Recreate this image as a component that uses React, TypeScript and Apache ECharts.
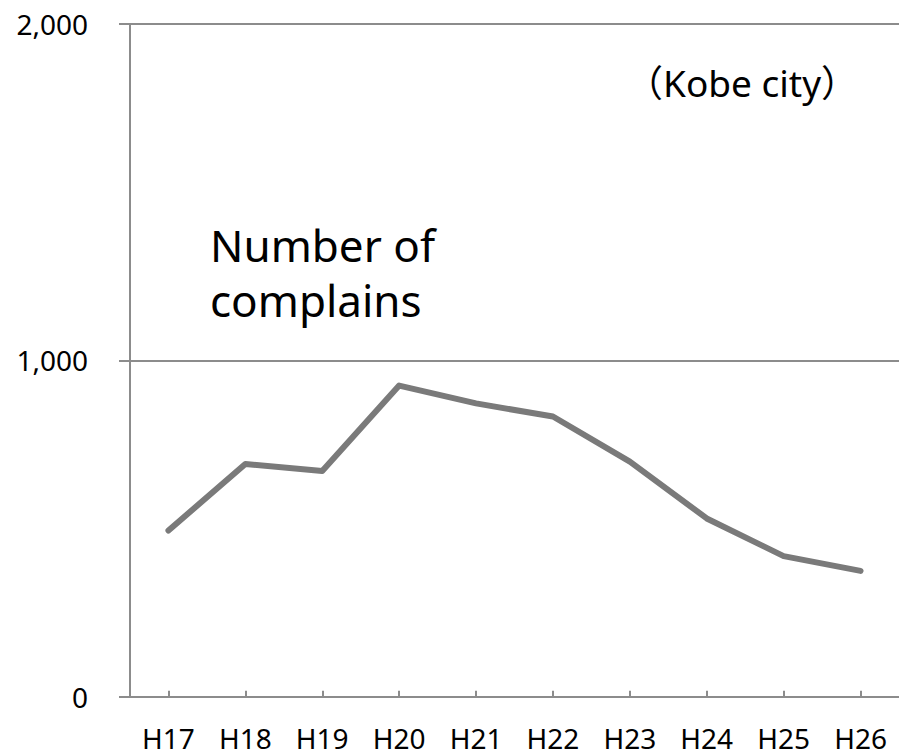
import React, { useEffect, useRef } from "react";
import * as echarts from "echarts";

const categories = ["H17", "H18", "H19", "H20", "H21", "H22", "H23", "H24", "H25", "H26"];
const complaints = [494, 692, 671, 925, 872, 833, 699, 530, 418, 374];
const yTicks = [0, 1000, 2000];

const FONT = "'Noto Sans', 'Noto Sans CJK JP', sans-serif";
const AXIS_COLOR = "#8c8c8c";

export default function App() {
  const ref = useRef<HTMLDivElement>(null);
  useEffect(() => {
    if (!ref.current) return;
    const chart = echarts.init(ref.current, undefined, { renderer: "svg" });
    chart.setOption({
      animation: false,
      backgroundColor: "#ffffff",
      textStyle: { fontFamily: FONT },
      grid: { left: 130, top: 24, width: 772, height: 672.7, containLabel: false },
      xAxis: {
        type: "category",
        data: categories,
        boundaryGap: true,
        axisLine: { show: true, lineStyle: { color: AXIS_COLOR, width: 2 } },
        axisTick: { show: true, inside: true, length: 6, alignWithLabel: true, interval: 0, lineStyle: { color: AXIS_COLOR, width: 2 } },
        axisLabel: { interval: 0, margin: 27, color: "#000", fontSize: 28, lineHeight: 28, fontFamily: FONT },
        splitLine: { show: false },
      },
      yAxis: {
        type: "value",
        min: yTicks[0],
        max: yTicks[yTicks.length - 1],
        interval: 1000,
        axisLine: { show: true, lineStyle: { color: AXIS_COLOR, width: 2 } },
        axisTick: { show: true, length: 11, lineStyle: { color: AXIS_COLOR, width: 2 } },
        axisLabel: {
          margin: 42,
          color: "#000",
          fontSize: 28,
          fontFamily: FONT,
          formatter: (v: number) => v.toLocaleString("en-US"),
        },
        splitLine: { show: true, lineStyle: { color: AXIS_COLOR, width: 2 } },
      },
      graphic: [
        {
          type: "text",
          left: 626,
          top: 64,
          style: { text: "（Kobe city）", fontSize: 37, fontFamily: FONT, fill: "#000" },
        },
        {
          type: "text",
          left: 210,
          top: 217,
          style: { text: "Number of\ncomplains", fontSize: 44, lineHeight: 55, fontFamily: FONT, fill: "#000" },
        },
      ],
      series: [
        {
          type: "line",
          data: complaints,
          showSymbol: false,
          symbol: "none",
          lineStyle: { color: "#7a7a7a", width: 6, cap: "round", join: "round" },
        },
      ],
    });
    return () => chart.dispose();
  }, []);
  return <div ref={ref} style={{ width: 899, height: 756, position: "absolute", left: 0, top: 0 }} />;
}
